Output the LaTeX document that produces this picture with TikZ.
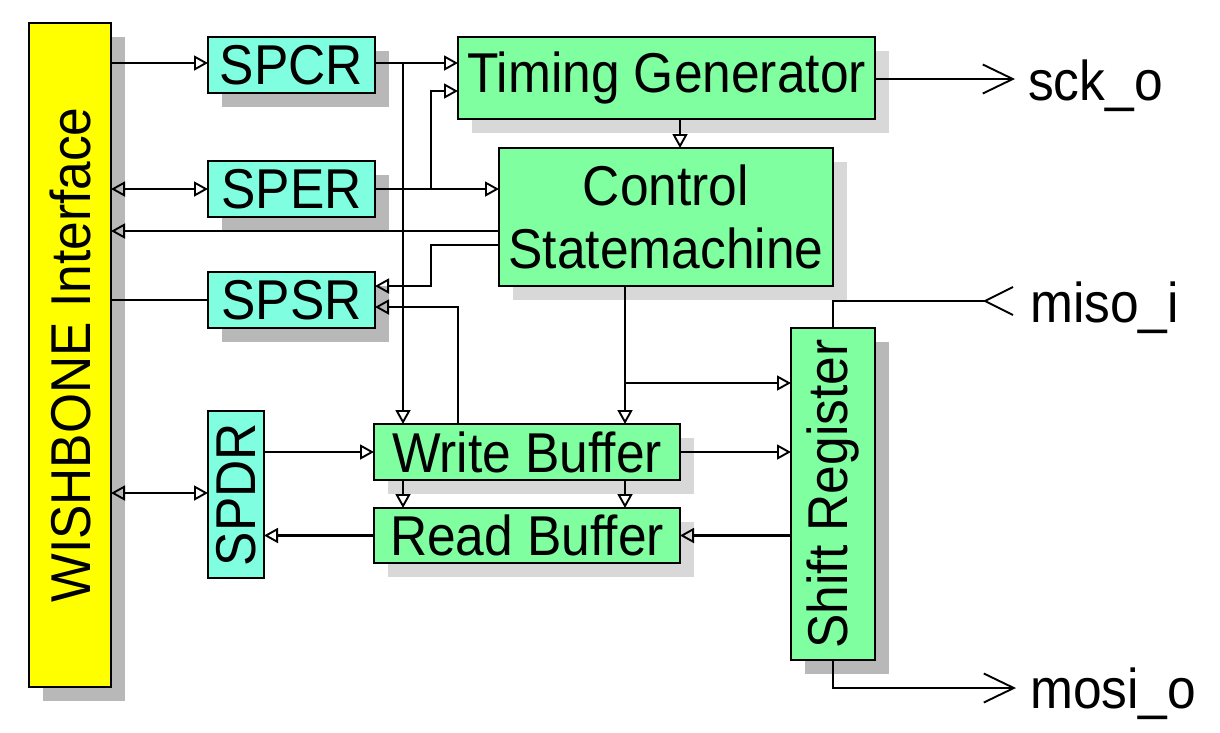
\documentclass[tikz,border=0pt]{standalone}
\usepackage{fontspec}
\setmainfont{Liberation Sans}
\usetikzlibrary{arrows.meta,shadows}
\definecolor{wbyellow}{RGB}{255,255,0}
\definecolor{regcyan}{RGB}{128,255,224}
\definecolor{blkgreen}{RGB}{128,255,160}
\definecolor{shdark}{RGB}{184,184,184}
\definecolor{shlight}{RGB}{216,216,216}
\newcommand{\vstr}[1]{\scalebox{1}[1.09]{#1}}
\begin{document}
\begin{tikzpicture}[x=1pt,y=-1pt,
  box/.style={draw=black, line width=2.6pt, rectangle, inner sep=0pt, outer sep=0pt,
    font=\fontsize{51.5}{63}\selectfont, align=center},
  darksh/.style={general shadow={shadow xshift=14pt, shadow yshift=-14pt, fill=shdark}},
  lightsh/.style={general shadow={shadow xshift=14pt, shadow yshift=-14pt, fill=shlight}},
  regbox/.style={box, fill=regcyan},
  blkbox/.style={box, fill=blkgreen},
  thickline/.style={line width=2.7pt},
  thinline/.style={line width=1.9pt},
  tri/.tip={Triangle[open, length=14pt, width=15pt, line width=1.9pt]},
  arr/.style={-tri},
  dbl/.style={tri-tri},
  outarr/.style={-{Straight Barb[length=30pt, width=29pt, line width=1.9pt]}},
  lbl/.style={anchor=base west, inner sep=0pt, font=\fontsize{51.5}{63}\selectfont}
]
\useasboundingbox (0,0) rectangle (1220,732);

% blocks
\node[box, fill=wbyellow, darksh, minimum width=82pt, minimum height=664pt] (WISH) at (70,355) {\rotatebox{90}{\vstr{WISHBONE Interface}}};
\node[regbox, darksh, minimum width=167pt, minimum height=56pt] (SPCR) at (291.5,65) {\vstr{SPCR}};
\node[regbox, darksh, minimum width=167pt, minimum height=56pt] (SPER) at (291.5,189) {\vstr{SPER}};
\node[regbox, darksh, minimum width=167pt, minimum height=56pt] (SPSR) at (291.5,300) {\vstr{SPSR}};
\node[regbox, minimum width=56pt, minimum height=167pt] (SPDR) at (236,494.5) {\rotatebox{90}{\vstr{SPDR}}};
\node[blkbox, lightsh, minimum width=417pt, minimum height=82pt] (TG) at (666.5,78) {\vstr{Timing Generator}};
\node[blkbox, lightsh, minimum width=334pt, minimum height=138pt] (CSM) at (666,217) {\vstr{Control}\\\vstr{Statemachine}};
\node[blkbox, lightsh, minimum width=306pt, minimum height=56pt] (WB) at (527,452) {\vstr{Write Buffer}};
\node[blkbox, lightsh, minimum width=306pt, minimum height=55pt] (RB) at (527,535.5) {\vstr{Read Buffer}};
\node[blkbox, darksh, minimum width=84pt, minimum height=332pt] (SR) at (833,494) {\rotatebox{90}{\vstr{Shift Register}}};

% external labels
\node[lbl] (sck) at (1028,100) {\vstr{sck\_o}};
\node[lbl] (miso) at (1030,322) {\vstr{miso\_i}};
\node[lbl] (mosi) at (1030,708) {\vstr{mosi\_o}};

% junction / end coordinates
\coordinate (j1) at (403,63);
\coordinate (j2) at (431,189);
\coordinate (j3) at (625,383);
\coordinate (sckTip) at (1015,79);
\coordinate (misoTip) at (985,301);
\coordinate (mosiTip) at (1016,688);

% WISHBONE side
\draw[thickline, arr] (WISH.east |- 0,63) -- (SPCR.west |- 0,63);
\draw[thickline, dbl] (WISH.east |- 0,189) -- (SPER.west);
\draw[thickline, arr] (CSM.west |- 0,231) -- (WISH.east |- 0,231);
\draw[thickline] (WISH.east |- 0,300) -- (SPSR.west);
\draw[thinline, dbl] (WISH.east |- 0,493) -- (SPDR.west |- 0,493);

% registers to core
\draw[thickline, arr] (SPCR.east |- 0,63) -- (TG.west |- 0,63);
\draw[thinline, arr] (j1) -- (WB.north -| j1);
\draw[thickline, arr] (SPER.east) -- (CSM.west |- SPER.east);
\draw[thinline, arr] (j2) |- (TG.west |- 0,91);
\draw[thinline, arr] (CSM.west |- 0,245) -- (431,245) -- (431,286) -- (SPSR.east |- 0,286);
\draw[thickline, arr] (WB.north -| 458,0) |- (SPSR.east |- 0,307);
\draw[thinline, arr] (TG.south -| 680,0) -- (CSM.north -| 680,0);
\draw[thinline, arr] (CSM.south -| j3) -- (WB.north -| j3);
\draw[thinline, arr] (j3) -- (SR.west |- j3);
\draw[thinline, arr] (WB.east) -- (SR.west |- WB.east);
\draw[thickline, arr] (SR.west |- RB.east) -- (RB.east);
\draw[thinline, arr] (WB.south -| j1) -- (RB.north -| j1);
\draw[thinline, arr] (WB.south -| j3) -- (RB.north -| j3);
\draw[thickline, arr] (RB.west) -- (SPDR.east |- RB.west);
\draw[thinline, arr] (SPDR.east |- WB.west) -- (WB.west);

% outputs / inputs
\draw[thinline, outarr] (TG.east |- sckTip) -- (sckTip);
\draw[thinline] (misoTip) -| (SR.north);
\draw[thinline] (1013,287) -- (misoTip) -- (1013,315);
\draw[thinline, outarr] (SR.south) |- (mosiTip);
\end{tikzpicture}
\end{document}
